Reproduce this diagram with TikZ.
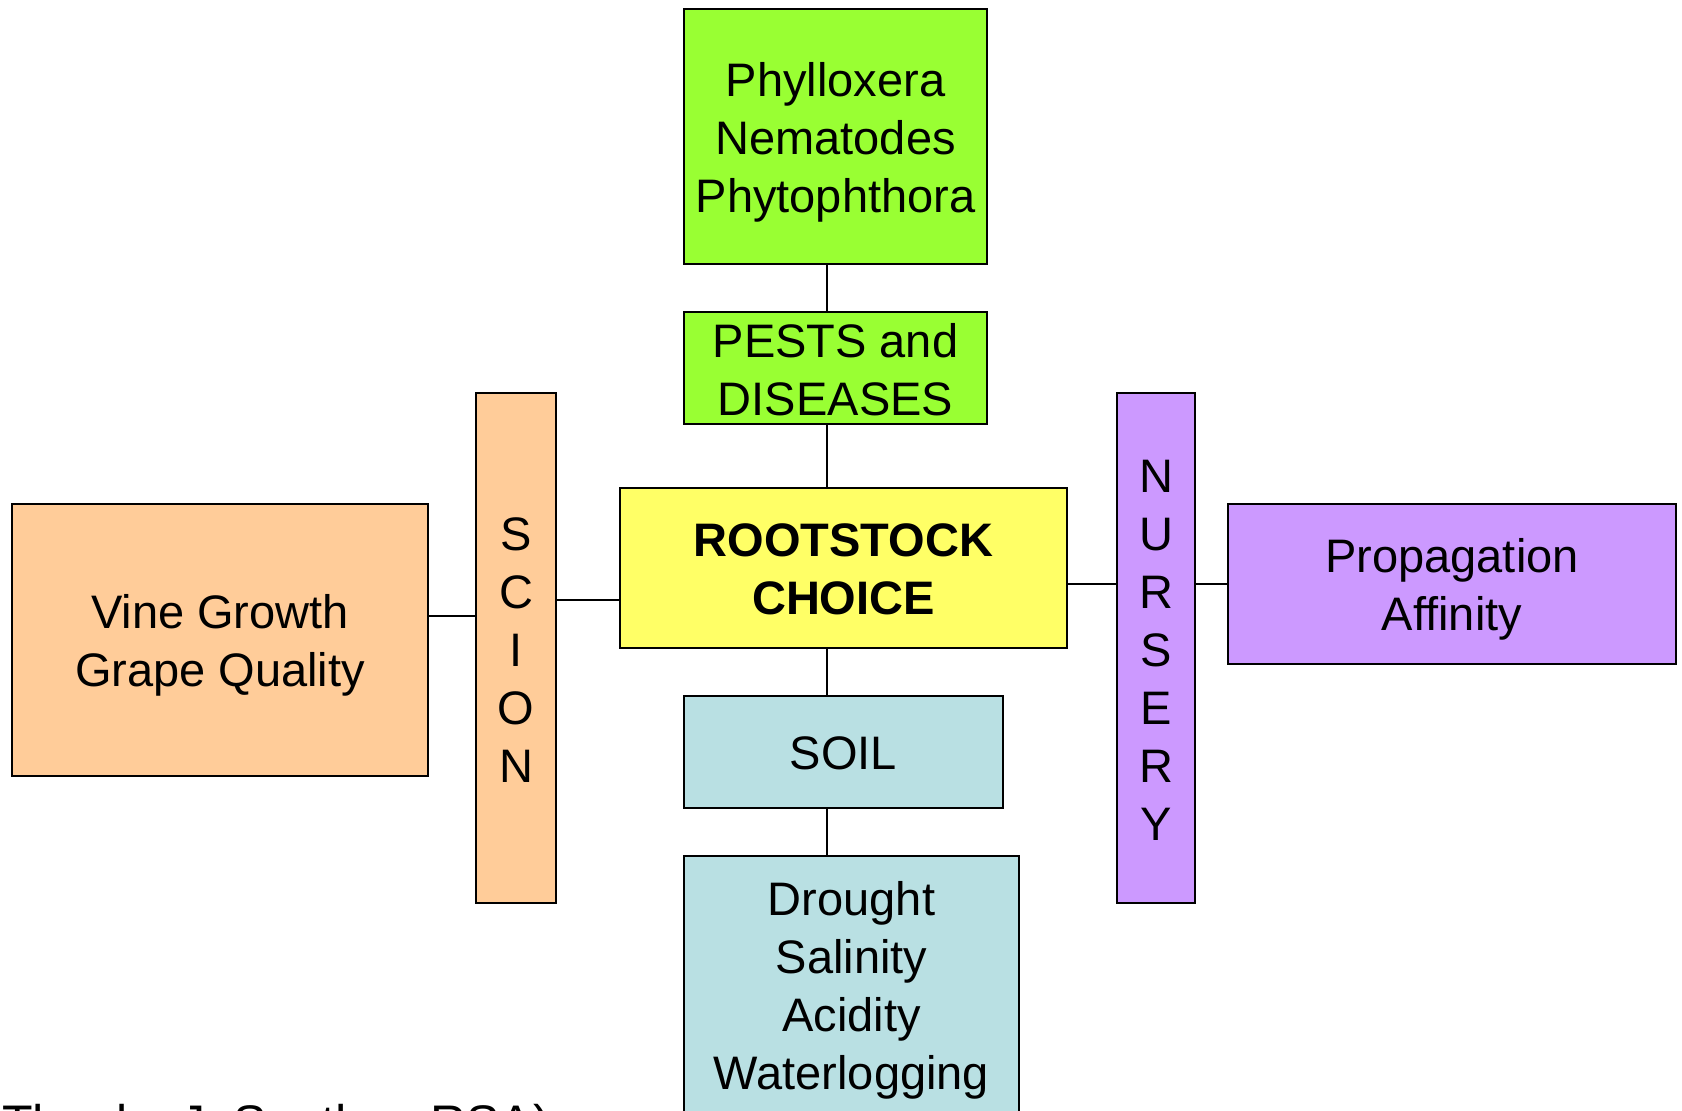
\documentclass[tikz,border=0pt]{standalone}
\usepackage{fontspec}
\setmainfont{Liberation Sans}
\definecolor{cgreen}{HTML}{99FF33}
\definecolor{cyellow}{HTML}{FFFF66}
\definecolor{cblue}{HTML}{B9E0E3}
\definecolor{corange}{HTML}{FFCC99}
\definecolor{cpurple}{HTML}{CC99FF}
\tikzset{
  boxnode/.style={draw=black, line width=1.2pt, inner sep=0pt},
  txt/.style={inner sep=0pt, align=center, font=\fontsize{23.5}{29}\selectfont},
  link/.style={draw=black, line width=1pt}
}
\begin{document}
\begin{tikzpicture}[x=0.5pt, y=-0.5pt]
\useasboundingbox (0,0) rectangle (1682,1110);
\clip (0,0) rectangle (1682,1110);
\fill[white] (0,0) rectangle (1682,1110);

% boxes
\node[boxnode, fill=cgreen, minimum width=151.5pt, minimum height=127.5pt] (pestlist) at (835.5,136.5) {};
\node[boxnode, fill=cgreen, minimum width=151.5pt, minimum height=56pt] (pests) at (835.5,368) {};
\node[boxnode, fill=cyellow, minimum width=223.5pt, minimum height=80pt] (root) at (843.5,568) {};
\node[boxnode, fill=cblue, minimum width=159.5pt, minimum height=56pt] (soil) at (843.5,752) {};
\node[boxnode, fill=cblue, minimum width=167.5pt, minimum height=152pt] (soillist) at (851.5,1008) {};
\node[boxnode, fill=corange, minimum width=208pt, minimum height=136pt] (vine) at (220,640) {};
\node[boxnode, fill=corange, minimum width=40pt, minimum height=255pt] (scion) at (516,648) {};
\node[boxnode, fill=cpurple, minimum width=39pt, minimum height=255pt] (nursery) at (1156,648) {};
\node[boxnode, fill=cpurple, minimum width=224pt, minimum height=80pt] (prop) at (1452,584) {};

% texts
\node[txt, yshift=-3pt] (pestlisttext) at (pestlist) {Phylloxera\\Nematodes\\Phytophthora};
\node[txt, yshift=-1pt] (pesttext) at (pests) {PESTS and\\DISEASES};
\node[txt, yshift=-0.5pt, font=\fontsize{23.5}{29}\selectfont\bfseries] (roottext) at (root) {ROOTSTOCK\\CHOICE};
\node[txt, yshift=-0.8pt] (soiltext) at (soil) {SOIL};
\node[txt, anchor=north] (soillisttext) at (851.5,881) {Drought\\Salinity\\Acidity\\Waterlogging};
\node[txt, yshift=-2.7pt] (vinetext) at (vine) {Vine Growth\\Grape Quality};
\node[txt, yshift=-0.8pt] (sciontext) at (scion) {S\\C\\I\\O\\N};
\node[txt, yshift=-1.2pt] (nurserytext) at (nursery) {N\\U\\R\\S\\E\\R\\Y};
\node[txt, yshift=-2.7pt] (proptext) at (prop) {Propagation\\Affinity};

% connectors
\coordinate (vx) at (827,0);
\coordinate (h1) at (0,616);
\coordinate (h2) at (0,600);
\coordinate (h3) at (0,584);

\draw[link] (pestlist.south -| vx) -- (pests.north -| vx);
\draw[link] (pests.south -| vx) -- (root.north -| vx);
\draw[link] (root.south -| vx) -- (soil.north -| vx);
\draw[link] (soil.south -| vx) -- (soillist.north -| vx);
\draw[link] (vine.east |- h1) -- (scion.west |- h1);
\draw[link] (scion.east |- h2) -- (root.west |- h2);
\draw[link] (root.east |- h3) -- (nursery.west |- h3);
\draw[link] (nursery.east |- h3) -- (prop.west |- h3);

\node[anchor=base west, inner sep=0pt, font=\fontsize{25}{30}\selectfont] (credit) at (2,1140) {Thanks J. Southey RSA)};
\end{tikzpicture}
\end{document}
